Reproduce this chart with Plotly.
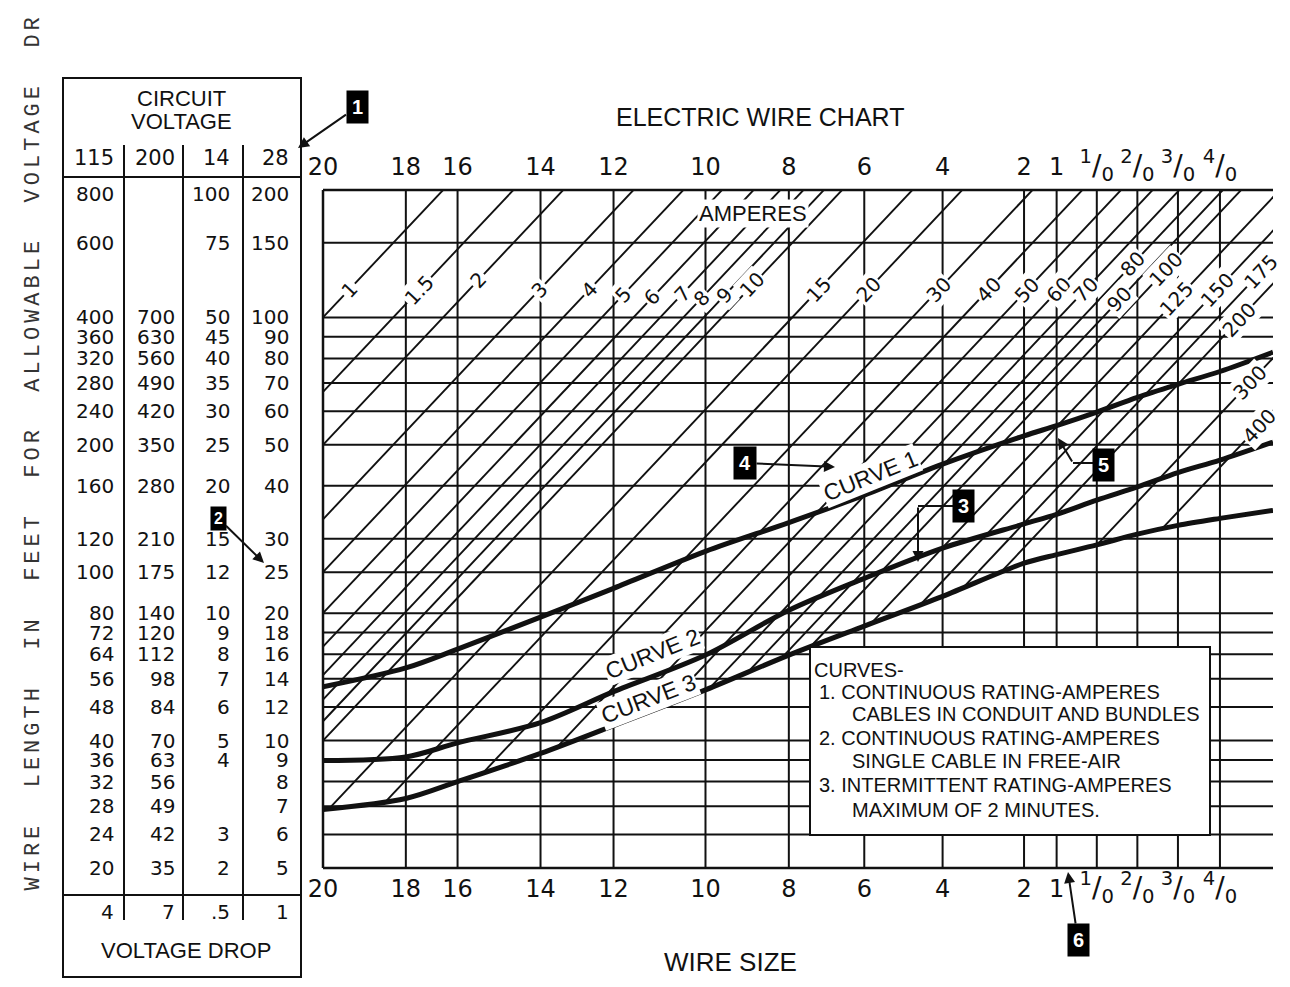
import numpy as np
import plotly.graph_objects as go

# ------------------------------------------------------------------ data
wire_sizes = ["20", "18", "16", "14", "12", "10", "8", "6", "4", "2", "1",
              "1/0", "2/0", "3/0", "4/0"]
# chart resistance scale, ohms per 1000 ft
wire_res = [10.0, 6.2, 4.6, 2.85, 1.87, 1.10, 0.68, 0.44, 0.28, 0.175, 0.145,
            0.115, 0.091, 0.072, 0.0565]
chart_edge_res = 0.0416          # right end of the chart (beyond 4/0)

circuit_voltage = ["115", "200", "14", "28"]
voltage_drop = ["4", "7", ".5", "1"]
length_115 = [800, 600, 400, 360, 320, 280, 240, 200, 160, 120, 100, 80, 72, 64,
              56, 48, 40, 36, 32, 28, 24, 20]
length_200 = ["", "", 700, 630, 560, 490, 420, 350, 280, 210, 175, 140, 120, 112,
              98, 84, 70, 63, 56, 49, 42, 35]
length_14 = [100, 75, 50, 45, 40, 35, 30, 25, 20, 15, 12, 10, 9, 8, 7, 6, 5, 4,
             "", "", 3, 2]
length_28 = [200, 150, 100, 90, 80, 70, 60, 50, 40, 30, 25, 20, 18, 16, 14, 12,
             10, 9, 8, 7, 6, 5]

amperes = [1, 1.5, 2, 3, 4, 5, 6, 7, 8, 9, 10, 15, 20, 30, 40, 50, 60, 70, 80,
           90, 100, 125, 150, 175, 200, 300, 400]

# curves: wire length (ft, 115 V scale) at each wire size + chart right end
curve_res = wire_res + [chart_edge_res]
curve1_ft = [53.6, 59.4, 65.8, 78.3, 91.6, 112, 131, 152, 180, 210, 222, 239,
             259, 278, 298, 331]
curve2_ft = [35.9, 36.6, 39.5, 44.1, 52.2, 63.7, 81.3, 96.7, 114, 130, 137, 148,
             159, 172, 184, 203]
curve3_ft = [27.5, 29.2, 32.0, 37.3, 43.4, 52.7, 63.7, 74.6, 87.7, 105, 110, 116,
             123, 129, 134, 140]

legend_lines = ["CURVES-",
                "1. CONTINUOUS RATING-AMPERES",
                "CABLES IN CONDUIT AND BUNDLES",
                "2. CONTINUOUS RATING-AMPERES",
                "SINGLE CABLE IN FREE-AIR",
                "3. INTERMITTENT RATING-AMPERES",
                "MAXIMUM OF 2 MINUTES."]
side_title = "WIRE LENGTH IN FEET FOR ALLOWABLE VOLTAGE DR"   # cut off in the scan

# ------------------------------------------------------------------ layout helpers
PAGE_W, PAGE_H, OFF = 1290, 987, 8          # page has an 8 px body margin
W, H = PAGE_W - 2 * OFF, PAGE_H - 2 * OFF
PL, PR, PT, PB = 323, 1273, 190, 868         # plot area, page pixels
SANS = "Liberation Sans, Arial, Helvetica, sans-serif"
NUM = "DejaVu Sans, Verdana, sans-serif"
INK = "#111111"


def fx(p):
    return (p - PL) / (PR - PL)


def fy(p):
    return (PB - p) / (PB - PT)


K = 1000.0 * float(voltage_drop[0])      # L[ft] = K / (I * R)
x_lo, x_hi = np.log10(wire_res[0]), np.log10(chart_edge_res)
y_lo, y_hi = np.log10(length_115[-1]), np.log10(length_115[0])

fig = go.Figure()

# horizontal grid
hx, hy = [], []
for L in length_115[1:-1]:
    hx += [wire_res[0], chart_edge_res, None]
    hy += [L, L, None]
fig.add_trace(go.Scatter(x=hx, y=hy, mode="lines", hoverinfo="skip",
                         line=dict(color=INK, width=2)))
# vertical grid
vx, vy = [], []
for R in wire_res[1:]:
    vx += [R, R, None]
    vy += [length_115[-1], length_115[0], None]
fig.add_trace(go.Scatter(x=vx, y=vy, mode="lines", hoverinfo="skip",
                         line=dict(color=INK, width=2)))

# ampere lines, starting at curve 3
cu = np.log10(curve_res)[::-1]
c3 = np.log10(curve3_ft)[::-1]
u = np.linspace(x_lo, x_hi - 0.4, 4000)
c3u = np.interp(u, cu, c3)
dx, dy = [], []
for I in amperes:
    lu = np.log10(K / I) - u
    ok = lu >= c3u
    i = int(np.argmax(ok))
    if i > 0:
        d0 = lu[i - 1] - c3u[i - 1]
        d1 = lu[i] - c3u[i]
        us = u[i - 1] + d0 / (d0 - d1) * (u[i] - u[i - 1])
    else:
        us = u[0]
    ue = u[-1]
    dx += [10 ** us, 10 ** ue, None]
    dy += [K / I / 10 ** us, K / I / 10 ** ue, None]
fig.add_trace(go.Scatter(x=dx, y=dy, mode="lines", hoverinfo="skip",
                         line=dict(color=INK, width=1.9)))

for c in (curve1_ft, curve2_ft, curve3_ft):
    fig.add_trace(go.Scatter(x=curve_res, y=c, mode="lines", hoverinfo="skip",
                             line=dict(color=INK, width=5, shape="spline",
                                       smoothing=0.9)))
# anchor trace for the top axis
fig.add_trace(go.Scatter(x=[wire_res[0]], y=[length_115[0]], xaxis="x2",
                         mode="markers", marker=dict(opacity=0),
                         hoverinfo="skip"))

tick_text = []
for s in wire_sizes:
    if "/" in s:
        a, b = s.split("/")
        tick_text.append(f'<span style="font-size:28px"><sup>{a}</sup>/'
                         f'<sub>{b}</sub></span>')
    else:
        tick_text.append(s)

ax_common = dict(type="log", range=[x_lo, x_hi], tickvals=wire_res,
                 ticktext=tick_text, showgrid=False, zeroline=False,
                 showline=False, ticks="",
                 tickfont=dict(family=NUM, size=24, color=INK))

shapes = []


def seg(x0, y0, x1, y1, w=2):
    shapes.append(dict(type="line", xref="paper", yref="paper",
                       x0=fx(x0), y0=fy(y0), x1=fx(x1), y1=fy(y1),
                       line=dict(color=INK, width=w)))


# chart frame (left, top, bottom)
for (a0, b0, a1, b1) in ((0, 0, 0, 1), (0, 1, 1, 1), (0, 0, 1, 0)):
    shapes.append(dict(type="line", xref="paper", yref="paper", x0=a0, y0=b0,
                       x1=a1, y1=b1, line=dict(color=INK, width=2.5)))

# table
shapes.append(dict(type="rect", xref="paper", yref="paper", x0=fx(63), x1=fx(301),
                   y0=fy(977), y1=fy(78), line=dict(color=INK, width=2)))
seg(63, 177, 301, 177)
seg(63, 895, 301, 895)
for cx in (124, 183, 243):
    seg(cx, 145, cx, 920)

# legend box
shapes.append(dict(type="rect", xref="paper", yref="paper", x0=fx(810), x1=fx(1210),
                   y0=fy(835), y1=fy(647), fillcolor="white", layer="above",
                   line=dict(color=INK, width=2)))
# elbow leaders for callouts 3 and 5
seg(962, 506, 918, 506)
seg(1100, 463, 1073, 463)

ann = []


def text(px, py, s, size=20, xa="center", family=SANS, angle=0, bg=None, **kw):
    d = dict(xref="paper", yref="paper", x=fx(px), y=fy(py), text=s,
             showarrow=False, xanchor=xa, yanchor="middle", textangle=angle,
             font=dict(family=family, size=size, color=INK))
    if bg:
        d.update(bgcolor=bg, borderpad=1)
    d.update(kw)
    ann.append(d)


# titles
text(760, 117, "ELECTRIC WIRE CHART", 25)
text(730, 962, "WIRE SIZE", 26)
text(753, 213, "AMPERES", 22, bg="white")
gap = "\u00a0\u00a0"
vt = gap.join(side_title.split(" "))
ann.append(dict(xref="paper", yref="paper", x=fx(33), y=fy(893),
                text=f'<span style="letter-spacing:4px">{vt}</span>',
                showarrow=False, textangle=-90, xanchor="center", yanchor="bottom",
                font=dict(family="Liberation Mono, Courier New, monospace", size=22,
                          color="#333333")))

# table text
text(181, 98, "CIRCUIT", 22)
text(181, 122, "VOLTAGE", 22)
col_right = [116, 177, 232, 291]
for cx, v in zip(col_right, circuit_voltage):
    text(cx, 158, v, 21, xa="right", family=NUM)
for cx, v in zip(col_right, voltage_drop):
    text(cx, 912, v, 20, xa="right", family=NUM)
text(186, 950, "VOLTAGE DROP", 22)
for r, L in enumerate(length_115):
    for cx, col in zip(col_right, (length_115, length_200, length_14, length_28)):
        v = col[r]
        if v == "":
            continue
        ann.append(dict(xref="paper", yref="y", x=fx(cx), y=np.log10(L),
                        yshift=-4 if r == 0 else 0, text=str(v), showarrow=False,
                        xanchor="right", yanchor="middle",
                        font=dict(family=NUM, size=20, color=INK)))

# ampere labels along the lines (label height in ft, layout only)
label_ft_default = 465
label_ft = {2: 490, 5: 452, 6: 446, 7: 455, 8: 445, 9: 452, 10: 476, 80: 535,
            90: 441, 100: 520, 125: 441, 175: 512, 200: 395, 300: 280, 400: 222}
ang = -np.degrees(np.arctan((PB - PT) / (y_hi - y_lo) / ((PR - PL) / (x_lo - x_hi))))
for I in amperes:
    L = label_ft.get(I, label_ft_default)
    R = K / (I * L)
    ann.append(dict(xref="x", yref="y", x=np.log10(R), y=np.log10(L),
                    text=f"{I:g}", showarrow=False, textangle=ang,
                    bgcolor="white", borderpad=1,
                    font=dict(family=NUM, size=20, color=INK)))

# curve labels
text(870, 476, "CURVE 1", 23, angle=-22, bg="white")
text(652, 654, "CURVE 2", 23, angle=-22, bg="white")
text(648, 699, "CURVE 3", 23, angle=-21, bg="white")

# legend text
lx = [810, 815, 848, 815, 848, 815, 848]
ly = [670, 692, 714, 738, 761, 785, 810]
for x_, y_, s in zip(lx, ly, legend_lines):
    text(x_ + 2, y_, s, 20, xa="left")


# numbered callouts
def callout(bx, by, n, head=None, size=20, pad=5):
    d = dict(xref="paper", yref="paper", text=f"<b>{n}</b>", bgcolor="black",
             borderpad=pad, font=dict(family=SANS, size=size, color="white"))
    if head is None:
        d.update(x=fx(bx), y=fy(by), showarrow=False)
    else:
        hx_, hy_ = head
        d.update(x=fx(hx_), y=fy(hy_), ax=bx - hx_, ay=by - hy_, showarrow=True,
                 arrowhead=2, arrowsize=1.1, arrowwidth=2, arrowcolor=INK)
    ann.append(d)


def arrow(tail, head):
    ann.append(dict(xref="paper", yref="paper", x=fx(head[0]), y=fy(head[1]),
                    ax=tail[0] - head[0], ay=tail[1] - head[1], text="",
                    showarrow=True, arrowhead=2, arrowsize=1.1, arrowwidth=2,
                    arrowcolor=INK))


callout(357, 107, 1, head=(298, 148))
callout(218, 518, 2, head=(264, 563), size=16, pad=3)
callout(975, 506, 3)
arrow((918, 506), (918, 562))
callout(745, 463, 4, head=(835, 467))
callout(1115, 465, 5)
arrow((1073, 463), (1058, 438))
callout(1078, 940, 6, head=(1068, 872))

fig.update_layout(
    width=W, height=H,
    margin=dict(l=PL - OFF, r=(PAGE_W - OFF) - PR, t=PT - OFF,
                b=(PAGE_H - OFF) - PB, pad=0),
    paper_bgcolor="white", plot_bgcolor="white",
    showlegend=False,
    xaxis=dict(**ax_common, ticklabelstandoff=4),
    xaxis2=dict(**ax_common, overlaying="x", side="top", matches="x",
                ticklabelstandoff=9),
    yaxis=dict(type="log", range=[y_lo, y_hi], showgrid=False, zeroline=False,
               showticklabels=False, ticks="", showline=False),
    shapes=shapes, annotations=ann,
)

fig.write_html("out.html")
